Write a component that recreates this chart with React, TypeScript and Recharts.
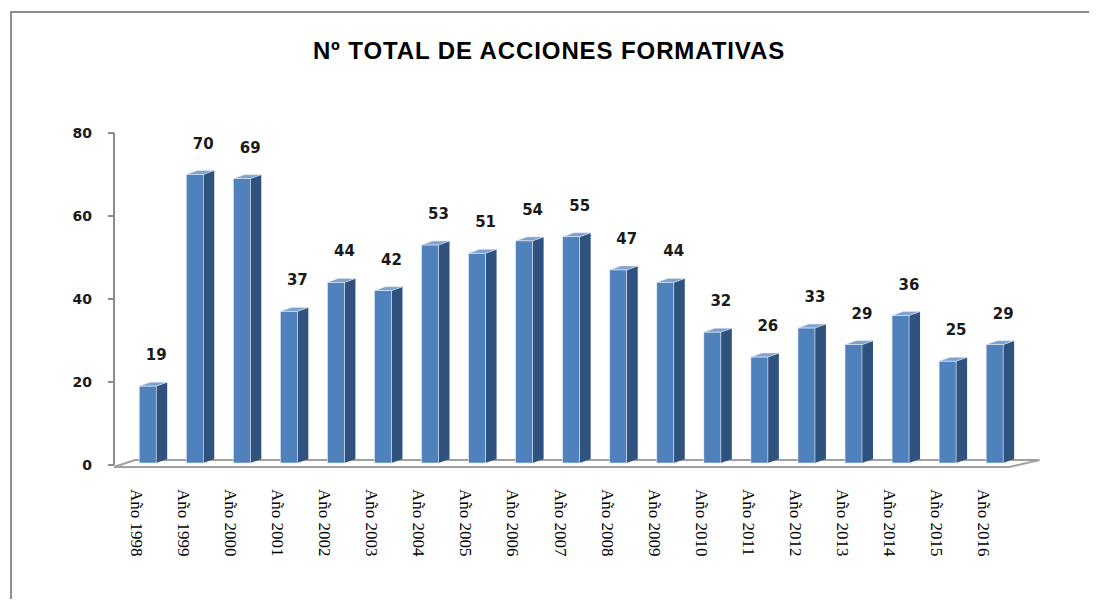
import React from "react"
import { BarChart, Bar, XAxis, YAxis, LabelList, ReferenceLine } from "recharts"

const years = [
  "Año 1998", "Año 1999", "Año 2000", "Año 2001", "Año 2002", "Año 2003", "Año 2004",
  "Año 2005", "Año 2006", "Año 2007", "Año 2008", "Año 2009", "Año 2010", "Año 2011",
  "Año 2012", "Año 2013", "Año 2014", "Año 2015", "Año 2016",
]
const totals = [19, 70, 69, 37, 44, 42, 53, 51, 54, 55, 47, 44, 32, 26, 33, 29, 36, 25, 29]
const yTicks = [0, 20, 40, 60, 80]

const data = years.map((year, i) => ({ year, total: totals[i] }))

const FRONT = "#4f81bd"
const SIDE = "#30527e"
const TOP = "#7ea2d2"
const GRID = "#a0a0a0"

function Bar3D(props: any) {
  const { x, y, width, height } = props
  const cx = x + width / 2
  const top = y
  const bottom = y + height - 2
  const l = cx - 14
  const m = cx + 3
  const r = cx + 14
  const d = 4
  return (
    <g>
      <polygon points={`${m},${top} ${r},${top - d} ${r},${bottom - d} ${m},${bottom}`} fill={SIDE} />
      <polygon points={`${l},${top} ${l + 11},${top - d} ${r},${top - d} ${m},${top}`} fill={TOP} stroke="#dbe6f3" strokeWidth={0.6} />
      <rect x={l} y={top} width={m - l} height={bottom - top} fill={FRONT} stroke="#e8eef7" strokeWidth={0.6} />
    </g>
  )
}

// floor of the 3d plot, drawn from the y=0 reference line
function Floor(props: any) {
  const { x1, x2, y1 } = props
  const front = y1 + 2
  const back = y1 - 5
  return (
    <polyline
      points={`${x1},${front} ${x2 - 14},${front} ${x2 + 16},${back} ${x1 + 21},${back} ${x1},${front}`}
      fill="#fff"
      stroke={GRID}
      strokeWidth={2}
    />
  )
}

function YearTick(props: any) {
  const { x, y, payload } = props
  return (
    <text
      transform={`translate(${x - 22},${y + 22}) rotate(90)`}
      fontFamily="'Liberation Serif', serif"
      fontSize={17}
      fill="#000"
    >
      {payload.value}
    </text>
  )
}

function ValueLabel(props: any) {
  const { x, y, width, value } = props
  return (
    <text
      x={x + width / 2 + 3}
      y={y - 26}
      textAnchor="middle"
      fontFamily="'DejaVu Sans', sans-serif"
      fontWeight="bold"
      fontSize={15}
      fill="#1a1a1a"
    >
      {value}
    </text>
  )
}

export default function App() {
  return (
    <div style={{ position: "relative", width: 1081, height: 591, background: "#fff", overflow: "hidden" }}>
      <div
        style={{
          position: "absolute",
          left: 2,
          top: 3,
          width: 1200,
          height: 700,
          borderLeft: "2px solid #8c8c8c",
          borderTop: "2px solid #8c8c8c",
        }}
      />
      <div
        style={{
          position: "absolute",
          left: 0,
          top: 31,
          width: 1082,
          textAlign: "center",
          fontFamily: "'Liberation Sans', Arial, sans-serif",
          fontWeight: "bold",
          fontSize: 24,
          lineHeight: "24px",
          letterSpacing: 0.9,
          color: "#000",
        }}
      >
        Nº TOTAL DE ACCIONES FORMATIVAS
      </div>
      <div style={{ position: "absolute", left: 0, top: 0 }}>
        <BarChart width={1081} height={591} data={data} margin={{ top: 125, right: 65.5, bottom: 0, left: 0 }}>
          <ReferenceLine y={0} shape={<Floor />} zIndex={0} ifOverflow="visible" />
          <XAxis
            dataKey="year"
            interval={0}
            height={134}
            axisLine={false}
            tickLine={false}
            tickSize={0}
            padding={{ left: 15.5, right: 0 }}
            tick={<YearTick />}
          />
          <YAxis
            width={106}
            domain={[0, 80]}
            ticks={yTicks}
            axisLine={{ stroke: "#8c8c8c", strokeWidth: 2 }}
            tickLine={{ stroke: "#8c8c8c", strokeWidth: 2 }}
            tickSize={6}
            tickMargin={16}
            tick={{ fontFamily: "'DejaVu Sans', sans-serif", fontWeight: "bold", fontSize: 14, fill: "#1a1a1a" }}
          />
          <Bar dataKey="total" shape={<Bar3D />} isAnimationActive={false}>
            <LabelList dataKey="total" content={<ValueLabel />} />
          </Bar>
        </BarChart>
      </div>
    </div>
  )
}
